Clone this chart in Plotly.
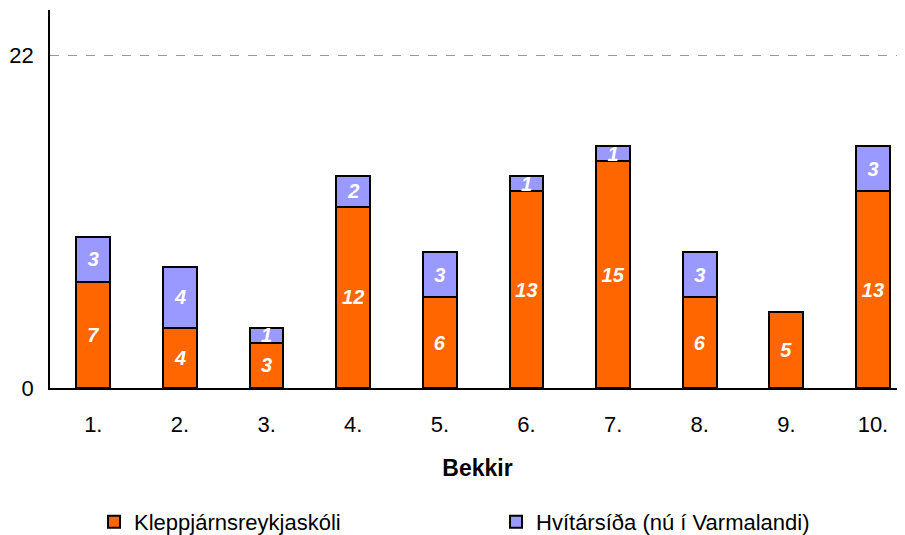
import plotly.graph_objects as go

grades = ["1.", "2.", "3.", "4.", "5.", "6.", "7.", "8.", "9.", "10."]
klepp = [7, 4, 3, 12, 6, 13, 15, 6, 5, 13]
hvit = [3, 4, 1, 2, 3, 1, 1, 3, 0, 3]
name_klepp = "Kleppjárnsreykjaskóli"
name_hvit = "Hvítársíða (nú í Varmalandi)"

FONT = "Arial, Liberation Sans, sans-serif"
label_font = dict(color="white", size=20, family=FONT, weight="bold", style="italic")

fig = go.Figure()
fig.add_bar(
    x=grades, y=klepp, name=name_klepp,
    marker=dict(color="#FF6600", line=dict(color="black", width=2)),
    text=[str(v) for v in klepp], textposition="inside", textangle=0,
    insidetextanchor="middle", textfont=label_font, width=0.39,
)
fig.add_bar(
    x=grades, y=hvit, name=name_hvit,
    marker=dict(color="#9999FF", line=dict(color="black", width=2)),
    text=[str(v) if v else "" for v in hvit], textposition="inside", textangle=0,
    insidetextanchor="middle", textfont=label_font, width=0.39,
)

# page body has an 8px margin, so the figure is sized to fit the rest
fig.update_layout(
    barmode="stack",
    width=897, height=527,
    margin=dict(l=42, r=0, t=2, b=147),
    plot_bgcolor="white", paper_bgcolor="white",
    font=dict(family=FONT, size=22, color="black"),
    uniformtext=dict(mode="show", minsize=20),
    showlegend=True,
    legend=dict(
        orientation="h", xref="container", yref="container",
        x=0.0959, xanchor="left", y=0.0247, yanchor="middle",
        entrywidth=357, entrywidthmode="pixels",
        font=dict(size=22), traceorder="normal",
    ),
    xaxis=dict(
        range=[-0.5, 9.37], showline=True, linecolor="black", linewidth=1.5,
        ticks="", automargin=False, ticklabelstandoff=16,
        title=dict(text="<b>Bekkir</b>", standoff=24, font=dict(size=23)),
        fixedrange=True,
    ),
    yaxis=dict(
        range=[0, 25], tickvals=[0, 22], showline=True, linecolor="black",
        linewidth=1.5, showgrid=True, gridcolor="#999999", griddash="dash",
        gridwidth=1, zeroline=False, ticks="", ticklabelstandoff=10,
        automargin=False,
    ),
)

fig.write_html("out.html")
